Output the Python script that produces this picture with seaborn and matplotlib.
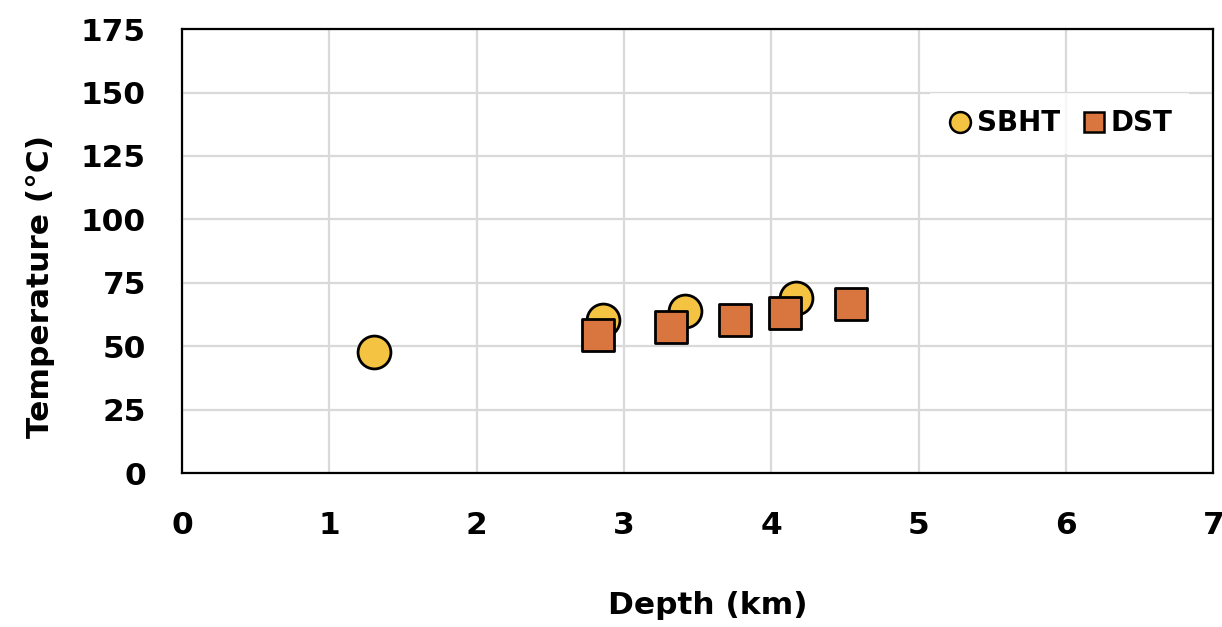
import matplotlib
matplotlib.use("Agg")
import matplotlib.pyplot as plt
from matplotlib.lines import Line2D
import seaborn as sns
import pandas as pd

# Measured temperatures versus depth
sbht_depth = [1.30, 2.86, 3.41, 4.17]
sbht_temp = [47.8, 60.5, 64.0, 69.0]
dst_depth = [2.82, 3.32, 3.75, 4.09, 4.54]
dst_temp = [54.5, 57.7, 60.5, 63.2, 66.8]

x_ticks = [0, 1, 2, 3, 4, 5, 6, 7]
y_ticks = [0, 25, 50, 75, 100, 125, 150, 175]

sbht_color = "#F5C342"
dst_color = "#D97640"

sns.set_style("white")
plt.rcParams["font.family"] = ["DejaVu Sans"]
plt.rcParams["font.weight"] = "bold"
plt.rcParams["text.color"] = "black"
plt.rcParams["axes.labelcolor"] = "black"
plt.rcParams["xtick.color"] = "black"
plt.rcParams["ytick.color"] = "black"

FS = 22.5

fig = plt.figure(figsize=(12.22, 6.27), dpi=100)
ax = fig.add_axes([0.149, 0.2456, 0.844, 0.708])

sbht = pd.DataFrame({"Depth": sbht_depth, "Temp": sbht_temp})
dst = pd.DataFrame({"Depth": dst_depth, "Temp": dst_temp})

sns.scatterplot(data=sbht, x="Depth", y="Temp", ax=ax, marker="o", s=560,
                color=sbht_color, edgecolor="black", linewidth=2, zorder=3)
sns.scatterplot(data=dst, x="Depth", y="Temp", ax=ax, marker="s", s=540,
                color=dst_color, edgecolor="black", linewidth=2, zorder=4)

ax.set_xlim(0, 7)
ax.set_ylim(0, 175)
ax.set_xticks(x_ticks)
ax.set_yticks(y_ticks)
ax.set_xticklabels([str(v) for v in x_ticks], fontsize=FS, fontweight="bold")
ax.set_yticklabels([str(v) for v in y_ticks], fontsize=FS, fontweight="bold")
ax.tick_params(axis="x", length=0, pad=27)
ax.tick_params(axis="y", length=0, pad=26)

ax.grid(True, color="#d9d9d9", linewidth=1.6)
ax.set_axisbelow(True)
for sp in ax.spines.values():
    sp.set_visible(True)
    sp.set_color("black")
    sp.set_linewidth(1.6)

ax.set_xlabel("Depth (km)", fontsize=FS, fontweight="bold", labelpad=34)
ax.set_ylabel("Temperature (°C)", fontsize=FS, fontweight="bold", labelpad=14)
ax.xaxis.set_label_coords(0.51, -0.265)
ax.yaxis.set_label_coords(-0.123, 0.42)

handles = [
    Line2D([], [], linestyle="none", marker="o", markersize=15,
           markerfacecolor=sbht_color, markeredgecolor="black", markeredgewidth=1.8),
    Line2D([], [], linestyle="none", marker="s", markersize=15,
           markerfacecolor=dst_color, markeredgecolor="black", markeredgewidth=1.8),
]
leg = ax.legend(handles, ["SBHT", "DST"], ncol=2, loc="upper right",
                bbox_to_anchor=(0.99, 0.888), frameon=True, fancybox=False,
                prop={"size": 20, "weight": "bold"}, handletextpad=0.1,
                columnspacing=0.72, handlelength=1.0, borderpad=0.6)
leg.get_frame().set_facecolor("white")
leg.get_frame().set_edgecolor("none")

fig.savefig("out.png", dpi=100)
